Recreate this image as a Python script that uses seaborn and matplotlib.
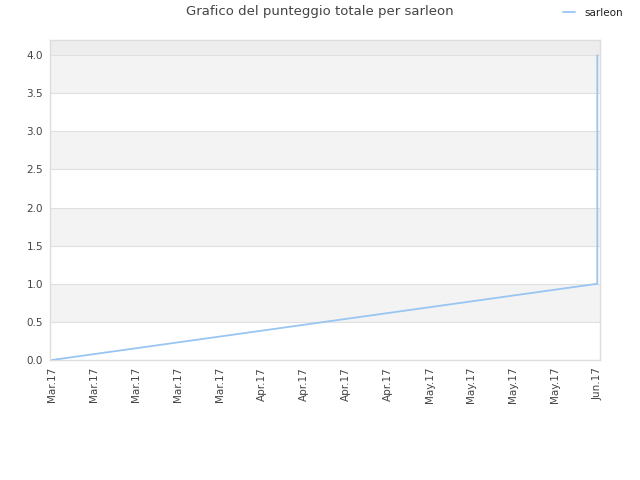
# plot.py
import seaborn as sns
import matplotlib.pyplot as plt
import pandas as pd
import numpy as np

sns.set_style("white")
plt.rcParams['font.family'] = ['DejaVu Sans']

# data
dates = ['2017-03-02', '2017-06-01', '2017-06-01']
punteggio = [0.0, 1.0, 4.0]
tick_dates = pd.date_range('2017-03-02', '2017-06-01', freq='7D')
tick_labels = [d.strftime('%b.%y') for d in tick_dates]

df = pd.DataFrame({'data': pd.to_datetime(dates), 'punteggio': punteggio})

fig = plt.figure(figsize=(6.4, 4.8), dpi=100)
ax = fig.add_axes([0.078, 0.25, 0.86, 0.667])

# alternating bands
for lo in np.arange(0, 4.0, 0.5):
    col = '#f3f3f3' if int(round(lo / 0.5)) % 2 == 1 else '#ffffff'
    ax.axhspan(lo, lo + 0.5, color=col, zorder=0, lw=0)
ax.axhspan(4.0, 4.2, color='#ededed', zorder=0, lw=0)
for y in np.arange(0.5, 4.01, 0.5):
    ax.axhline(y, color='#e0e0e0', lw=0.8, zorder=1)

sns.lineplot(data=df, x='data', y='punteggio', ax=ax, color='#99c5f2',
             lw=1.3, label='sarleon', estimator=None, sort=False, zorder=3)

ax.set_ylim(0, 4.2)
ax.set_xlim(pd.Timestamp('2017-03-01 16:00'), pd.Timestamp('2017-06-01 12:00'))
ax.set_yticks(np.arange(0, 4.01, 0.5))
ax.set_yticklabels([f'{v:.1f}' for v in np.arange(0, 4.01, 0.5)])
ax.set_xticks(tick_dates)
ax.set_xticklabels(tick_labels, rotation=90)
ax.tick_params(axis='both', length=0, labelsize=7.5, colors='#444444', pad=5)
ax.set_xlabel('')
ax.set_ylabel('')
for s in ax.spines.values():
    s.set_color('#dddddd')
    s.set_linewidth(1)

fig.suptitle('Grafico del punteggio totale per sarleon', fontsize=9.5,
             color='#444444', x=0.5, y=0.99)
ax.get_legend().remove()
h, l = ax.get_legend_handles_labels()
leg = fig.legend(h, l, loc='center left', bbox_to_anchor=(0.88, 0.973),
                 frameon=False, fontsize=7.5, handlelength=1.1,
                 handletextpad=0.9, borderaxespad=0, borderpad=0)
for t in leg.get_texts():
    t.set_color('#222222')

fig.savefig('out.png', dpi=100)
